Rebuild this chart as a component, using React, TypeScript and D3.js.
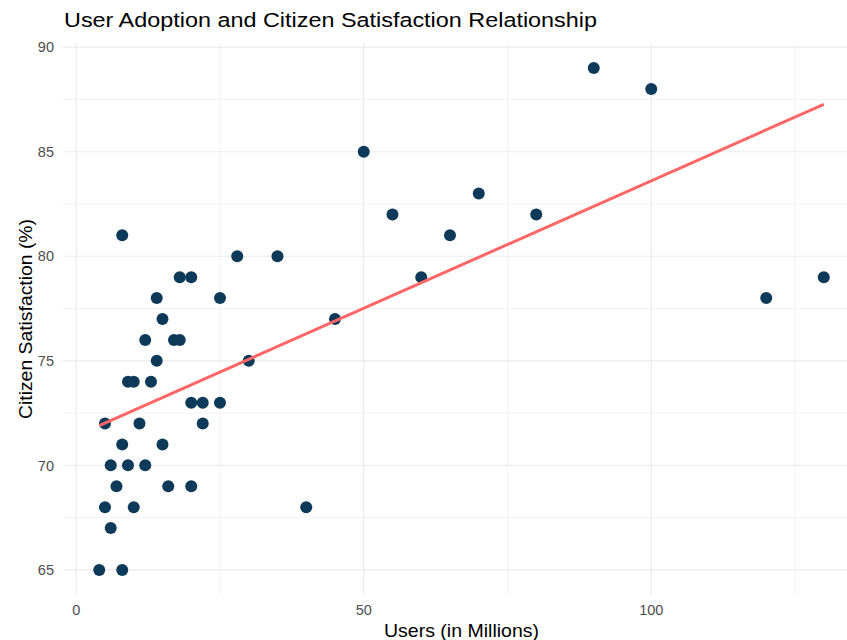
import React from "react";
import * as d3 from "d3";

const users = [4, 8, 5, 10, 6, 7, 16, 20, 6, 9, 12, 8, 15, 5, 11, 22, 20, 22, 25, 9, 10, 13, 14, 30, 12, 17, 18, 15, 45, 14, 25, 18, 20, 60, 28, 35, 8, 65, 55, 80, 70, 50, 100, 90, 40, 120, 130];
const satisfaction = [65, 65, 68, 68, 67, 69, 69, 69, 70, 70, 70, 71, 71, 72, 72, 72, 73, 73, 73, 74, 74, 74, 75, 75, 76, 76, 76, 77, 77, 78, 78, 79, 79, 79, 80, 80, 81, 81, 82, 82, 83, 85, 88, 89, 68, 78, 79];
const xTicks = [0, 50, 100];
const xMinor = [25, 75, 125];
const yTicks = [65, 70, 75, 80, 85, 90];
const yMinor = [67.5, 72.5, 77.5, 82.5, 87.5];

const title = "User Adoption and Citizen Satisfaction Relationship";
const xTitle = "Users (in Millions)";
const yTitle = "Citizen Satisfaction (%)";

export default function App() {
  const W = 847;
  const H = 640;
  const panel = { left: 63, right: 860, top: 43, bottom: 595 };
  const font = "'Liberation Sans', Arial, Helvetica, sans-serif";

  const [xmin, xmax] = d3.extent(users) as [number, number];
  const [ymin, ymax] = d3.extent(satisfaction) as [number, number];
  const xp = (xmax - xmin) * 0.05;
  const yp = (ymax - ymin) * 0.05;
  const x = d3.scaleLinear().domain([xmin - xp, xmax + xp]).range([panel.left, panel.right]);
  const y = d3.scaleLinear().domain([ymin - yp, ymax + yp]).range([panel.bottom, panel.top]);

  const data = users.map((u, i) => ({ u, s: satisfaction[i] }));
  const mx = d3.mean(users) as number;
  const my = d3.mean(satisfaction) as number;
  const sxy = d3.sum(data, (d) => (d.u - mx) * (d.s - my));
  const sxx = d3.sum(data, (d) => (d.u - mx) ** 2);
  const slope = sxy / sxx;
  const intercept = my - slope * mx;
  const fitPts: [number, number][] = [xmin, xmax].map((v) => [v, intercept + slope * v]);
  const line = d3
    .line<[number, number]>()
    .x((d) => x(d[0]))
    .y((d) => y(d[1]));

  const grid = "#EBEBEB";

  return (
    <svg
      width={W}
      height={H}
      style={{ position: "absolute", left: 0, top: 0, background: "#fff" }}
      fontFamily={font}
    >
      <rect x={0} y={0} width={W} height={H} fill="#fff" />
      {yMinor.map((t) => (
        <line key={"ym" + t} x1={panel.left} x2={panel.right} y1={y(t)} y2={y(t)} stroke={grid} strokeWidth={0.6} />
      ))}
      {xMinor.map((t) => (
        <line key={"xm" + t} x1={x(t)} x2={x(t)} y1={panel.top} y2={panel.bottom} stroke={grid} strokeWidth={0.6} />
      ))}
      {yTicks.map((t) => (
        <line key={"y" + t} x1={panel.left} x2={panel.right} y1={y(t)} y2={y(t)} stroke={grid} strokeWidth={1.2} />
      ))}
      {xTicks.map((t) => (
        <line key={"x" + t} x1={x(t)} x2={x(t)} y1={panel.top} y2={panel.bottom} stroke={grid} strokeWidth={1.2} />
      ))}
      {data.map((d, i) => (
        <circle key={i} cx={x(d.u)} cy={y(d.s)} r={6} fill="#0D3A58" />
      ))}
      <path d={line(fitPts) || ""} fill="none" stroke="#FF6666" strokeWidth={3} />
      {yTicks.map((t) => (
        <text key={"yl" + t} x={panel.left - 9} y={y(t)} dy="0.36em" textAnchor="end" fontSize={14.5} fill="#4D4D4D">
          {t}
        </text>
      ))}
      {xTicks.map((t) => (
        <text key={"xl" + t} x={x(t)} y={615} textAnchor="middle" fontSize={14.5} fill="#4D4D4D">
          {t}
        </text>
      ))}
      <text
        x={(panel.left + panel.right) / 2}
        y={636.5}
        textAnchor="middle"
        fontSize={19}
        fill="#000"
        textLength={155}
        lengthAdjust="spacingAndGlyphs"
      >
        {xTitle}
      </text>
      <text
        transform={`translate(31.5,${(panel.top + panel.bottom) / 2}) rotate(-90)`}
        textAnchor="middle"
        fontSize={19}
        fill="#000"
        textLength={200}
        lengthAdjust="spacingAndGlyphs"
      >
        {yTitle}
      </text>
      <text x={panel.left + 1} y={27.3} fontSize={20.5} fill="#000" textLength={533} lengthAdjust="spacingAndGlyphs">
        {title}
      </text>
    </svg>
  );
}
